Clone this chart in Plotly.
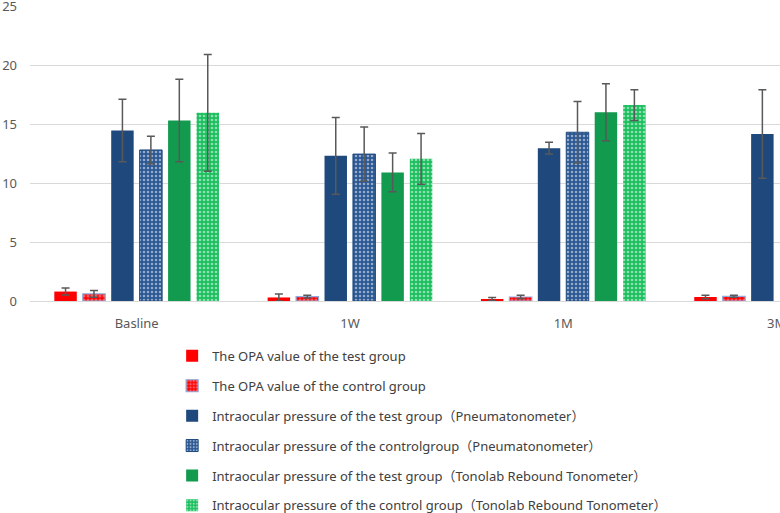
import plotly.graph_objects as go

categories = ["Basline", "1W", "1M", "3M"]

series_names = [
    "The OPA value of the test group",
    "The OPA value of the control group",
    "Intraocular pressure of the test group（Pneumatonometer）",
    "Intraocular pressure of the controlgroup（Pneumatonometer）",
    "Intraocular pressure of the test group（Tonolab Rebound Tonometer）",
    "Intraocular pressure of the control group（Tonolab Rebound Tonometer）",
]

opa_test = [0.8, 0.3, 0.17, 0.34]
opa_test_err = [0.3, 0.3, 0.13, 0.14]
opa_ctrl = [0.6, 0.37, 0.34, 0.40]
opa_ctrl_err = [0.28, 0.12, 0.14, 0.08]
pn_test = [14.45, 12.3, 12.95, 14.15]
pn_test_err = [2.65, 3.25, 0.5, 3.75]
pn_ctrl = [12.8, 12.45, 14.3, None]
pn_ctrl_err = [1.17, 2.3, 2.6, None]
tl_test = [15.3, 10.9, 16.0, None]
tl_test_err = [3.5, 1.65, 2.42, None]
tl_ctrl = [15.95, 12.05, 16.6, None]
tl_ctrl_err = [4.95, 2.15, 1.3, None]

values = [opa_test, opa_ctrl, pn_test, pn_ctrl, tl_test, tl_ctrl]
errors = [opa_test_err, opa_ctrl_err, pn_test_err, pn_ctrl_err, tl_test_err, tl_ctrl_err]

styles = [
    dict(color="#FF0000", line=dict(width=0)),
    dict(color="#FF0000", line=dict(color="#8FAADC", width=1.2),
         pattern=dict(shape=".", bgcolor="#FF0000", fgcolor="#F4B6C6", size=4, solidity=0.45, fillmode="overlay")),
    dict(color="#1F497D", line=dict(width=0)),
    dict(color="#2B5894", line=dict(color="#1F497D", width=1),
         pattern=dict(shape=".", bgcolor="#2B5894", fgcolor="#FFFFFF", size=4, solidity=0.3, fillmode="overlay")),
    dict(color="#129A4E", line=dict(width=0)),
    dict(color="#1BBF5E", line=dict(width=0),
         pattern=dict(shape=".", bgcolor="#1BBF5E", fgcolor="#FFFFFF", size=4, solidity=0.35, fillmode="overlay")),
]

font_family = "Noto Sans, Noto Sans CJK SC, sans-serif"

fig = go.Figure()
for i, (name, v, e, st) in enumerate(zip(series_names, values, errors, styles)):
    fig.add_trace(go.Bar(
        x=categories, y=v, name=name,
        marker=st,
        legendgroup=f"g{i}",
        error_y=dict(type="data", array=e, visible=True, color="#595959", thickness=1.5, width=4),
    ))

fig.update_layout(
    width=780, height=513,
    margin=dict(l=30, r=0, t=6, b=212, autoexpand=False),
    paper_bgcolor="white", plot_bgcolor="white",
    barmode="group", bargap=0.2, bargroupgap=0.21,
    font=dict(family=font_family, size=13, color="#595959"),
    showlegend=True,
    legend=dict(
        xref="container", yref="container",
        x=0.2207, y=0.3355, xanchor="left", yanchor="top",
        orientation="v", tracegroupgap=10,
        font=dict(family=font_family, size=13, color="#404040"),
        bgcolor="rgba(0,0,0,0)",
    ),
    xaxis=dict(
        type="category", range=[-0.5, 3.016],
        showline=True, linecolor="#D9D9D9", linewidth=1,
        showgrid=False, ticks="", ticklabelstandoff=10,
        ticklabeloverflow="allow",
        tickfont=dict(size=13, color="#595959"),
        automargin=False,
    ),
    yaxis=dict(
        range=[0, 25], dtick=5,
        showgrid=True, gridcolor="#D9D9D9", gridwidth=1,
        zeroline=False, showline=False, ticks="",
        ticklabelstandoff=12, automargin=False,
        ticklabeloverflow="allow",
        tickfont=dict(size=13, color="#595959"),
    ),
)

fig.write_html("out.html", config={"displayModeBar": False},
               post_script="document.body.style.margin='0';")
